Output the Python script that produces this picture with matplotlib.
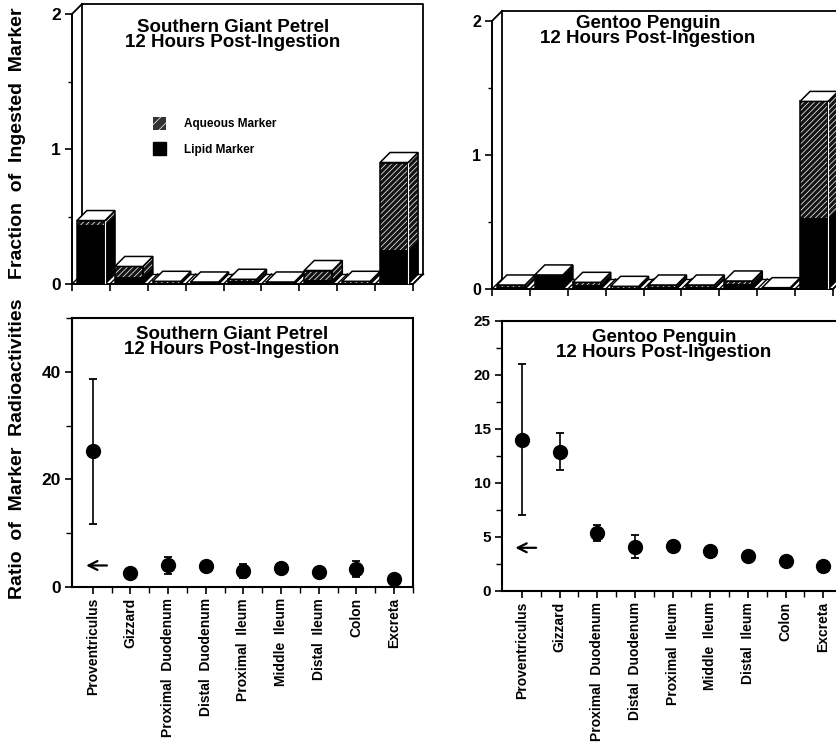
import matplotlib
matplotlib.use('Agg')
import matplotlib.pyplot as plt
from matplotlib.patches import Polygon, Patch
from matplotlib.ticker import MultipleLocator
import numpy as np

plt.rcParams['font.family'] = ['Liberation Sans', 'DejaVu Sans']
plt.rcParams['font.weight'] = 'bold'
plt.rcParams['hatch.color'] = 'white'
plt.rcParams['hatch.linewidth'] = 0.5

# ---------------- data ----------------
categories = ['Proventriculus', 'Gizzard', 'Proximal  Duodenum', 'Distal  Duodenum',
              'Proximal  Ileum', 'Middle  Ileum', 'Distal  Ileum', 'Colon', 'Excreta']

petrel_lipid = [0.44, 0.05, 0.01, 0.008, 0.02, 0.008, 0.03, 0.01, 0.25]
petrel_aqueous = [0.03, 0.08, 0.01, 0.007, 0.015, 0.007, 0.07, 0.01, 0.65]

gentoo_lipid = [0.015, 0.10, 0.03, 0.01, 0.015, 0.015, 0.04, 0.005, 0.53]
gentoo_aqueous = [0.015, 0.005, 0.02, 0.01, 0.015, 0.015, 0.02, 0.005, 0.87]

petrel_ratio = [25.2, 2.6, 4.0, 3.9, 2.9, 3.6, 2.7, 3.4, 1.4]
petrel_ratio_err = [13.4, 0.8, 1.5, 0.5, 1.3, 0.6, 0.8, 1.5, 0.3]

gentoo_ratio = [14.0, 12.9, 5.4, 4.1, 4.2, 3.7, 3.2, 2.8, 2.3]
gentoo_ratio_err = [7.0, 1.7, 0.75, 1.05, 0.3, 0.45, 0.2, 0.2, 0.2]

food_ratio = 4.0  # ratio in ingested meal (arrow)

titles = ['Southern Giant Petrel\n12 Hours Post-Ingestion',
          'Gentoo Penguin\n12 Hours Post-Ingestion']
legend_labels = ['Aqueous Marker', 'Lipid Marker']

# ---------------- figure ----------------
W, H = 836, 747
fig = plt.figure(figsize=(W / 100, H / 100), dpi=100)


def fax(l, r, b, t):
    return fig.add_axes([l / W, 1 - b / H, (r - l) / W, (b - t) / H])


HATCH = '//////'
HFACE = '#141414'
DEPTH_PX = 10


def draw_3d(ax, lipid, aqueous):
    n = len(lipid)
    ax.set_xlim(-0.5, n - 0.5)
    ax.set_ylim(0, 2)
    bbox = ax.get_position()
    wpx = bbox.width * W
    hpx = bbox.height * H
    dx = DEPTH_PX * n / wpx
    dy = DEPTH_PX * 2 / hpx
    pos = np.arange(n)
    lipid = np.asarray(lipid, float)
    aqueous = np.asarray(aqueous, float)
    total = lipid + aqueous
    width = 0.74
    lb = ax.bar(pos, lipid, width, color='black', linewidth=0)
    ab = ax.bar(pos, aqueous, width, bottom=lipid, facecolor=HFACE,
                edgecolor='white', hatch=HATCH, linewidth=0)
    ob = ax.bar(pos, total, width, fill=False, edgecolor='black', linewidth=1.1)
    # back frame
    x0, x1 = -0.5, n - 0.5
    fk = dict(color='black', lw=1.3, clip_on=False, zorder=1.5)
    ax.plot([x0 + dx, x0 + dx], [dy, 2 + dy], **fk)
    ax.plot([x0, x0 + dx], [2, 2 + dy], **fk)
    ax.plot([x0 + dx, x1 + dx, x1 + dx, x1], [2 + dy, 2 + dy, dy, 0], **fk)
    ax.plot([x0 + dx, x1 + dx], [dy, dy], color='black', lw=1.0, clip_on=False, zorder=1.5)
    for b in np.arange(n + 1) - 0.5:
        ax.plot([b, b + dx], [0, dy], color='black', lw=1.0, clip_on=False, zorder=1.6)
    for i in range(n):
        z = 3 + i
        lb[i].set_zorder(z)
        ab[i].set_zorder(z)
        ob[i].set_zorder(z + 0.5)
        for p in (lb[i], ab[i], ob[i]):
            p.set_clip_on(False)
        xl = ob[i].get_x()
        xr = xl + ob[i].get_width()
        if lipid[i] > 0:
            ax.add_patch(Polygon([(xr, 0), (xr + dx, dy), (xr + dx, lipid[i] + dy), (xr, lipid[i])],
                                 closed=True, facecolor='black', edgecolor='black', lw=0.5,
                                 zorder=z, clip_on=False))
        if aqueous[i] > 0:
            ax.add_patch(Polygon([(xr, lipid[i]), (xr + dx, lipid[i] + dy),
                                  (xr + dx, total[i] + dy), (xr, total[i])],
                                 closed=True, facecolor=HFACE, edgecolor='white', hatch=HATCH,
                                 lw=0, zorder=z, clip_on=False))
        ax.add_patch(Polygon([(xr, 0), (xr + dx, dy), (xr + dx, total[i] + dy), (xr, total[i])],
                             closed=True, fill=False, edgecolor='black', lw=1.1,
                             zorder=z + 0.5, clip_on=False))
        if total[i] > 0.2:
            ax.plot([xr, xr], [0.01, total[i]], color='white', lw=0.8, zorder=z + 0.55, clip_on=False)
        ax.add_patch(Polygon([(xl, total[i]), (xr, total[i]), (xr + dx, total[i] + dy),
                              (xl + dx, total[i] + dy)], closed=True, facecolor='white',
                             edgecolor='black', lw=1.1, zorder=z + 0.6, clip_on=False))
    for s in ('top', 'right'):
        ax.spines[s].set_visible(False)
    for s in ('left', 'bottom'):
        ax.spines[s].set_linewidth(1.4)
    ax.set_xticks(np.arange(n + 1) - 0.5)
    ax.set_xticklabels([])
    ax.yaxis.set_major_locator(MultipleLocator(1))
    ax.yaxis.set_minor_locator(MultipleLocator(0.5))
    ax.tick_params(direction='out', length=5, width=1.2, labelsize=12.5, pad=3)
    ax.tick_params(which='minor', direction='out', length=3, width=1.0)
    ax.patch.set_alpha(0)


def draw_ratio(ax, mean, err, ymax, major, minor, labelsize):
    n = len(mean)
    pos = np.arange(n)
    ax.errorbar(pos, mean, yerr=err, fmt='o', color='black', ms=10, capsize=3,
                elinewidth=1.2, capthick=1.3, zorder=3)
    ax.annotate('', xy=(-0.25, food_ratio), xytext=(0.45, food_ratio),
                arrowprops=dict(arrowstyle='->', lw=1.6, color='black', mutation_scale=16))
    ax.set_ylim(0, ymax)
    ax.set_xticks(pos)
    ax.set_xticklabels(categories, rotation=90, fontsize=10, fontweight='bold')
    ax.set_xticks(pos + 0.5, minor=True)
    ax.yaxis.set_major_locator(MultipleLocator(major))
    ax.yaxis.set_minor_locator(MultipleLocator(minor))
    ax.tick_params(direction='out', length=5, width=1.2, labelsize=labelsize, pad=3)
    ax.tick_params(which='minor', direction='out', length=4, width=1.0)
    ax.tick_params(axis='x', labelsize=10)
    for s in ax.spines.values():
        s.set_linewidth(1.5)


ax_tl = fax(72, 413, 284, 14)
ax_tr = fax(492, 833, 289, 21)
ax_bl = fax(72, 413, 587, 318)
ax_br = fax(502, 842, 591, 321)

draw_3d(ax_tl, petrel_lipid, petrel_aqueous)
draw_3d(ax_tr, gentoo_lipid, gentoo_aqueous)
for lab in ax_tr.get_yticklabels():
    lab.set_fontsize(11.5)

draw_ratio(ax_bl, petrel_ratio, petrel_ratio_err, 50, 20, 10, 12.5)
ax_bl.set_xlim(-0.55, 8.5)
draw_ratio(ax_br, gentoo_ratio, gentoo_ratio_err, 25, 5, 2.5, 11)
ax_br.set_xlim(-0.53, 8.5)

# legend
handles = [Patch(facecolor='#333333', edgecolor='white', hatch='///', linewidth=0),
           Patch(facecolor='black', edgecolor='black')]
fig.legend(handles, legend_labels, loc='upper left', bbox_to_anchor=(153 / W, 1 - 117 / H),
           frameon=False, fontsize=8.5, handlelength=1.1, handleheight=1.3,
           handletextpad=1.5, labelspacing=1.0, borderpad=0, borderaxespad=0)

# titles
for (cx, cy), t in zip([(233, 35), (648, 31)], titles):
    fig.text(cx / W, 1 - cy / H, t, ha='center', va='center', fontsize=13.5,
             fontweight='bold', linespacing=0.8)
for (cx, cy), t in zip([(232, 342), (664, 345)], titles):
    fig.text(cx / W, 1 - cy / H, t, ha='center', va='center', fontsize=13.5,
             fontweight='bold', linespacing=0.8)

fig.text(18 / W, 1 - 143 / H, 'Fraction  of  Ingested  Marker', rotation=90,
         ha='center', va='center', fontsize=14, fontweight='bold')
fig.text(18 / W, 1 - 449 / H, 'Ratio  of  Marker  Radioactivities', rotation=90,
         ha='center', va='center', fontsize=14, fontweight='bold')

fig.savefig('out.png', dpi=100)
